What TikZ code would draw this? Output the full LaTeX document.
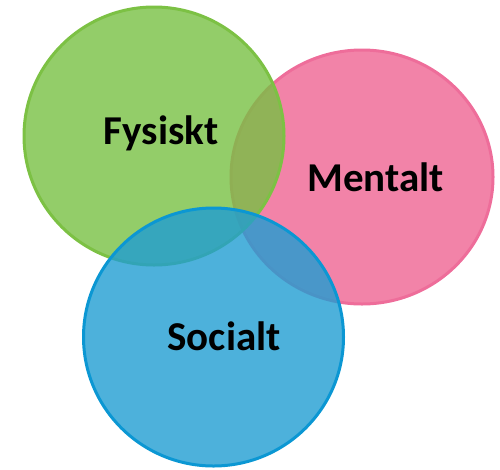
\documentclass[tikz,border=0pt]{standalone}
\usepackage{fontspec}
\setmainfont{Carlito}
\definecolor{grnfill}{HTML}{78C043}
\definecolor{grnline}{HTML}{7CC144}
\definecolor{pnkfill}{HTML}{EF6492}
\definecolor{pnkline}{HTML}{EE6D9A}
\definecolor{blufill}{HTML}{209DD2}
\definecolor{bluline}{HTML}{0B97D3}
\tikzset{
  area/.style={line width=3pt, fill opacity=0.8},
  caption/.style={anchor=base, font=\fontsize{41}{41}\selectfont\bfseries, text=black, inner sep=0pt}
}
\begin{document}
\begin{tikzpicture}[x=1pt, y=-1pt]
  \useasboundingbox (0,0) rectangle (500,469);
  % three overlapping areas: mental, physical, social
  \path[area, draw=pnkline, fill=pnkfill] (362,177) ellipse [x radius=131, y radius=127];
  \path[area, draw=grnline, fill=grnfill] (154,136) ellipse [x radius=130, y radius=129];
  \path[area, draw=bluline, fill=blufill] (213.5,337) ellipse [x radius=130, y radius=129];
  \node[caption] (fys) at (161,144) {Fysiskt};
  \node[caption] (men) at (375.5,191.5) {Mentalt};
  \node[caption] (soc) at (224,350.5) {Socialt};
\end{tikzpicture}
\end{document}
